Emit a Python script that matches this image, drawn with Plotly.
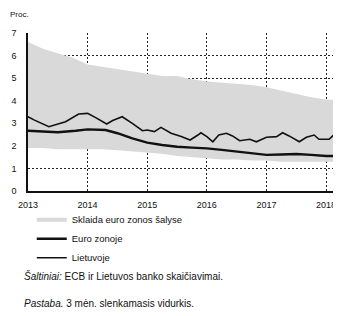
import plotly.graph_objects as go

# Spread across euro area countries (band)
band_x = [2013.0, 2013.25, 2013.5, 2013.75, 2014.0, 2014.25, 2014.5, 2014.75, 2015.0,
          2015.25, 2015.5, 2015.75, 2016.0, 2016.25, 2016.5, 2016.75, 2017.0, 2017.25,
          2017.5, 2017.75, 2018.0, 2018.25]
band_upper = [6.6, 6.3, 6.1, 5.9, 5.6, 5.5, 5.4, 5.3, 5.2, 5.1, 5.1, 4.95, 4.85, 4.8,
              4.75, 4.7, 4.6, 4.45, 4.3, 4.15, 4.05, 4.0]
band_lower = [1.9, 1.9, 1.85, 1.85, 1.85, 1.85, 1.8, 1.75, 1.7, 1.65, 1.55, 1.5, 1.45,
              1.4, 1.4, 1.35, 1.35, 1.3, 1.3, 1.3, 1.3, 1.3]

# Euro area
ea_x = [2013.0, 2013.25, 2013.5, 2013.8, 2014.0, 2014.3, 2014.5, 2014.75, 2015.0,
        2015.25, 2015.5, 2015.75, 2016.0, 2016.25, 2016.5, 2016.75, 2017.0, 2017.25,
        2017.5, 2017.75, 2018.0, 2018.25]
ea_y = [2.67, 2.65, 2.6, 2.67, 2.73, 2.7, 2.56, 2.33, 2.14, 2.04, 1.96, 1.92, 1.89,
        1.82, 1.74, 1.66, 1.6, 1.62, 1.64, 1.6, 1.55, 1.55]

# Lithuania
lt_x = [2013.0, 2013.1, 2013.35, 2013.63, 2013.85, 2014.0, 2014.15, 2014.32, 2014.42,
        2014.58, 2014.75, 2014.92, 2015.0, 2015.12, 2015.23, 2015.4, 2015.57, 2015.72,
        2015.85, 2015.9, 2016.0, 2016.1, 2016.2, 2016.33, 2016.43, 2016.55, 2016.72,
        2016.83, 2017.0, 2017.17, 2017.27, 2017.38, 2017.55, 2017.67, 2017.8, 2017.88,
        2018.05, 2018.25]
lt_y = [3.29, 3.15, 2.85, 3.07, 3.41, 3.44, 3.23, 2.97, 3.12, 3.29, 3.0, 2.67, 2.7,
        2.63, 2.82, 2.56, 2.41, 2.26, 2.48, 2.58, 2.41, 2.18, 2.48, 2.56, 2.44, 2.23,
        2.29, 2.18, 2.38, 2.41, 2.58, 2.44, 2.18, 2.38, 2.48, 2.29, 2.29, 2.8]

year_ticks = [2013, 2014, 2015, 2016, 2017, 2018]
year_labels = ["2013", "2014", "2015", "2016", "2017", "2018"]

FONT = "Liberation Sans Narrow, Arial Narrow, Liberation Sans, sans-serif"
BAND = "#d9d9d9"

fig = go.Figure()
fig.add_trace(go.Scatter(x=band_x, y=band_lower, mode="lines", line=dict(width=0, color=BAND),
                         showlegend=False, hoverinfo="skip"))
fig.add_trace(go.Scatter(x=band_x, y=band_upper, mode="lines", fill="tonexty",
                         fillcolor=BAND, line=dict(width=0, color=BAND),
                         name="Sklaida euro zonos šalyse", showlegend=False))
# legend-only sample for the band
fig.add_trace(go.Scatter(x=[None], y=[None], mode="lines", line=dict(width=4, color=BAND),
                         name="Sklaida euro zonos šalyse"))
fig.add_trace(go.Scatter(x=ea_x, y=ea_y, mode="lines", line=dict(width=2.4, color="#111111"),
                         name="Euro zonoje"))
fig.add_trace(go.Scatter(x=lt_x, y=lt_y, mode="lines", line=dict(width=1.6, color="#111111"),
                         name="Lietuvoje"))

fig.update_layout(
    width=333, height=308,
    margin=dict(l=20, r=0, t=25, b=125, autoexpand=False),
    paper_bgcolor="white", plot_bgcolor="white",
    font=dict(family=FONT, size=9, color="#111111"),
    showlegend=True,
    legend=dict(x=0.012, y=-0.09, xanchor="left", yanchor="top", orientation="v",
                traceorder="normal", font=dict(size=9.5), tracegroupgap=0, itemwidth=30,
                bgcolor="rgba(0,0,0,0)"),
    annotations=[
        dict(text="Proc.", xref="paper", yref="paper", x=-0.065, y=1.115,
             xanchor="left", yanchor="middle", showarrow=False, font=dict(size=8)),
        dict(text="<i>Šaltiniai:</i> ECB ir Lietuvos banko skaičiavimai.", xref="paper",
             yref="paper", x=-0.02, y=-0.54, xanchor="left", yanchor="middle",
             showarrow=False, font=dict(size=10)),
        dict(text="<i>Pastaba.</i> 3 mėn. slenkamasis vidurkis.", xref="paper", yref="paper",
             x=-0.02, y=-0.71, xanchor="left", yanchor="middle", showarrow=False,
             font=dict(size=10)),
    ],
)
fig.update_xaxes(range=[2013, 2018.25], tickvals=year_ticks, ticktext=year_labels,
                 showgrid=True, gridcolor="#222222", griddash="2px,2px", gridwidth=1,
                 showline=True, linecolor="#111111", linewidth=1.5, ticks="",
                 zeroline=False, tickfont=dict(size=9), ticklabelstandoff=4)
fig.update_yaxes(range=[0, 7], dtick=1, showgrid=True, gridcolor="#222222",
                 griddash="2px,2px", gridwidth=1, showline=True, linecolor="#111111",
                 linewidth=1.5, ticks="", zeroline=False, tickfont=dict(size=9),
                 ticklabelstandoff=8)

fig.write_html("out.html")
